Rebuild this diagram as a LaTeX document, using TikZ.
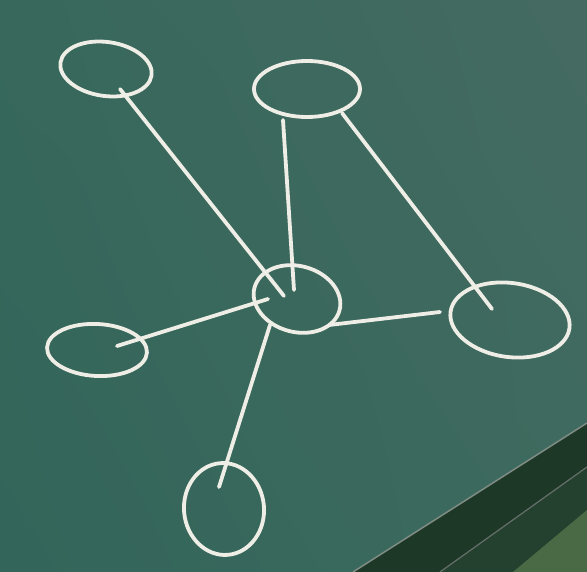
\documentclass[tikz,border=0pt]{standalone}
\usetikzlibrary{shapes.geometric,shadings}
\definecolor{chalkc}{HTML}{EEEEE6}
\definecolor{bUL}{HTML}{37685B}
\definecolor{bUR}{HTML}{456A62}
\definecolor{bLL}{HTML}{33655A}
\definecolor{bLR}{HTML}{3D6A5E}
\definecolor{trayA}{HTML}{1E3828}
\definecolor{trayB}{HTML}{24402E}
\definecolor{trayC}{HTML}{4A6A46}
\definecolor{rim}{HTML}{7E8C84}
\begin{document}
\begin{tikzpicture}[x=1pt,y=-1pt,
  chalk/.style={draw=chalkc, line width=3.8pt, line cap=round},
  vert/.style={chalk, ellipse, inner sep=0pt, outer sep=0pt},
  link/.style={chalk, line width=3.8pt}]
\useasboundingbox (0,0) rectangle (587,572);
% board
\shade[upper left=bUL, upper right=bUR, lower left=bLL, lower right=bLR] (0,0) rectangle (587,572);
% tray
\fill[trayA] (353,572) -- (587,423) -- (587,572) -- cycle;
\fill[trayB] (440,572) -- (587,467) -- (587,572) -- cycle;
\fill[trayC] (513,572) -- (587,510) -- (587,572) -- cycle;
\draw[rim, line width=1.5pt] (353,572) -- (587,423);
\draw[rim!80!black, line width=1.2pt] (440,572) -- (587,467);
% vertices
\node[vert, minimum width=92pt, minimum height=54pt, rotate=-8] (tl) at (106,69) {};
\node[vert, minimum width=106pt, minimum height=56pt] (tm) at (307,89) {};
\node[vert, minimum width=88pt, minimum height=66pt, rotate=-15] (c) at (297,299) {};
\node[vert, minimum width=100pt, minimum height=52pt, rotate=-3] (l) at (97,350) {};
\node[vert, minimum width=120pt, minimum height=74pt, rotate=-8] (r) at (510,320) {};
\node[vert, minimum width=80pt, minimum height=92pt, rotate=5] (b) at (224,509) {};
% edges
\draw[link] ([shift={(14,20)}]tl.center) -- ([shift={(-13,-3)}]c.center);
\draw[link] ([shift={(-24,31)}]tm.center) -- ([shift={(-3,-9)}]c.center);
\draw[link] ([shift={(35,24)}]tm.center) -- ([shift={(-18,-11)}]r.center);
\draw[link] ([shift={(-29,0)}]c.center) -- ([shift={(20,-4)}]l.center);
\draw[link] ([shift={(32,26)}]c.center) -- ([shift={(-70,-8)}]r.center);
\draw[link] ([shift={(-27,26)}]c.center) -- ([shift={(-5,-22)}]b.center);
\end{tikzpicture}
\end{document}
